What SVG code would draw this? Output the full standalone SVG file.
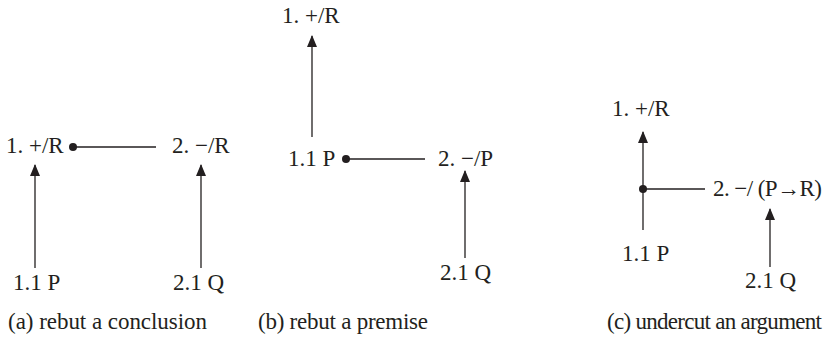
<svg xmlns="http://www.w3.org/2000/svg" width="830" height="339" viewBox="0 0 830 339">
<style>
text{font-family:"Liberation Serif","DejaVu Serif",serif;font-size:23px;fill:#231f20}
.c line{stroke:#231f20;stroke-width:1.3;fill:none}
.c circle{fill:#231f20}
</style>
<defs>
<marker id="ah" viewBox="0 0 12 10" refX="11" refY="5" markerWidth="12" markerHeight="10" markerUnits="userSpaceOnUse" orient="auto">
<path d="M0,0 L12,5 L0,10 Z" fill="#231f20"/>
</marker>
</defs>
<g class="c" id="connectors">
<line x1="35" y1="268" x2="35" y2="165" marker-end="url(#ah)"/>
<line x1="201" y1="268" x2="201" y2="165" marker-end="url(#ah)"/>
<line x1="73" y1="147" x2="156" y2="147"/>
<circle cx="73" cy="147" r="4"/>
<line x1="312" y1="137" x2="312" y2="36" marker-end="url(#ah)"/>
<line x1="346" y1="159" x2="425" y2="159"/>
<circle cx="346" cy="159" r="4"/>
<line x1="465" y1="258" x2="465" y2="171" marker-end="url(#ah)"/>
<line x1="643" y1="230" x2="643" y2="132" marker-end="url(#ah)"/>
<line x1="643" y1="189" x2="705" y2="189"/>
<circle cx="643" cy="189" r="4"/>
<line x1="770" y1="267" x2="770" y2="209" marker-end="url(#ah)"/>
</g>
<g id="a1"><text x="6" y="153">1. +/R</text></g>
<g id="a2"><text x="172" y="153">2. −/R</text></g>
<g id="a11"><text x="13" y="290">1.1 P</text></g>
<g id="a21"><text x="173" y="290">2.1 Q</text></g>
<g id="b1"><text x="282" y="23">1. +/R</text></g>
<g id="b11"><text x="288" y="166">1.1 P</text></g>
<g id="b2"><text x="438" y="166">2. −/P</text></g>
<g id="b21"><text x="440" y="280">2.1 Q</text></g>
<g id="c1"><text x="612" y="116">1. +/R</text></g>
<g id="c2"><text x="713" y="196" textLength="109">2. −/ (P→R)</text></g>
<g id="c11"><text x="622" y="261">1.1 P</text></g>
<g id="c21"><text x="745" y="288">2.1 Q</text></g>
<g id="captions">
<text x="8" y="329" textLength="199">(a) rebut a conclusion</text>
<text x="258" y="329" textLength="170">(b) rebut a premise</text>
<text x="607" y="329" textLength="215">(c) undercut an argument</text>
</g>
</svg>
